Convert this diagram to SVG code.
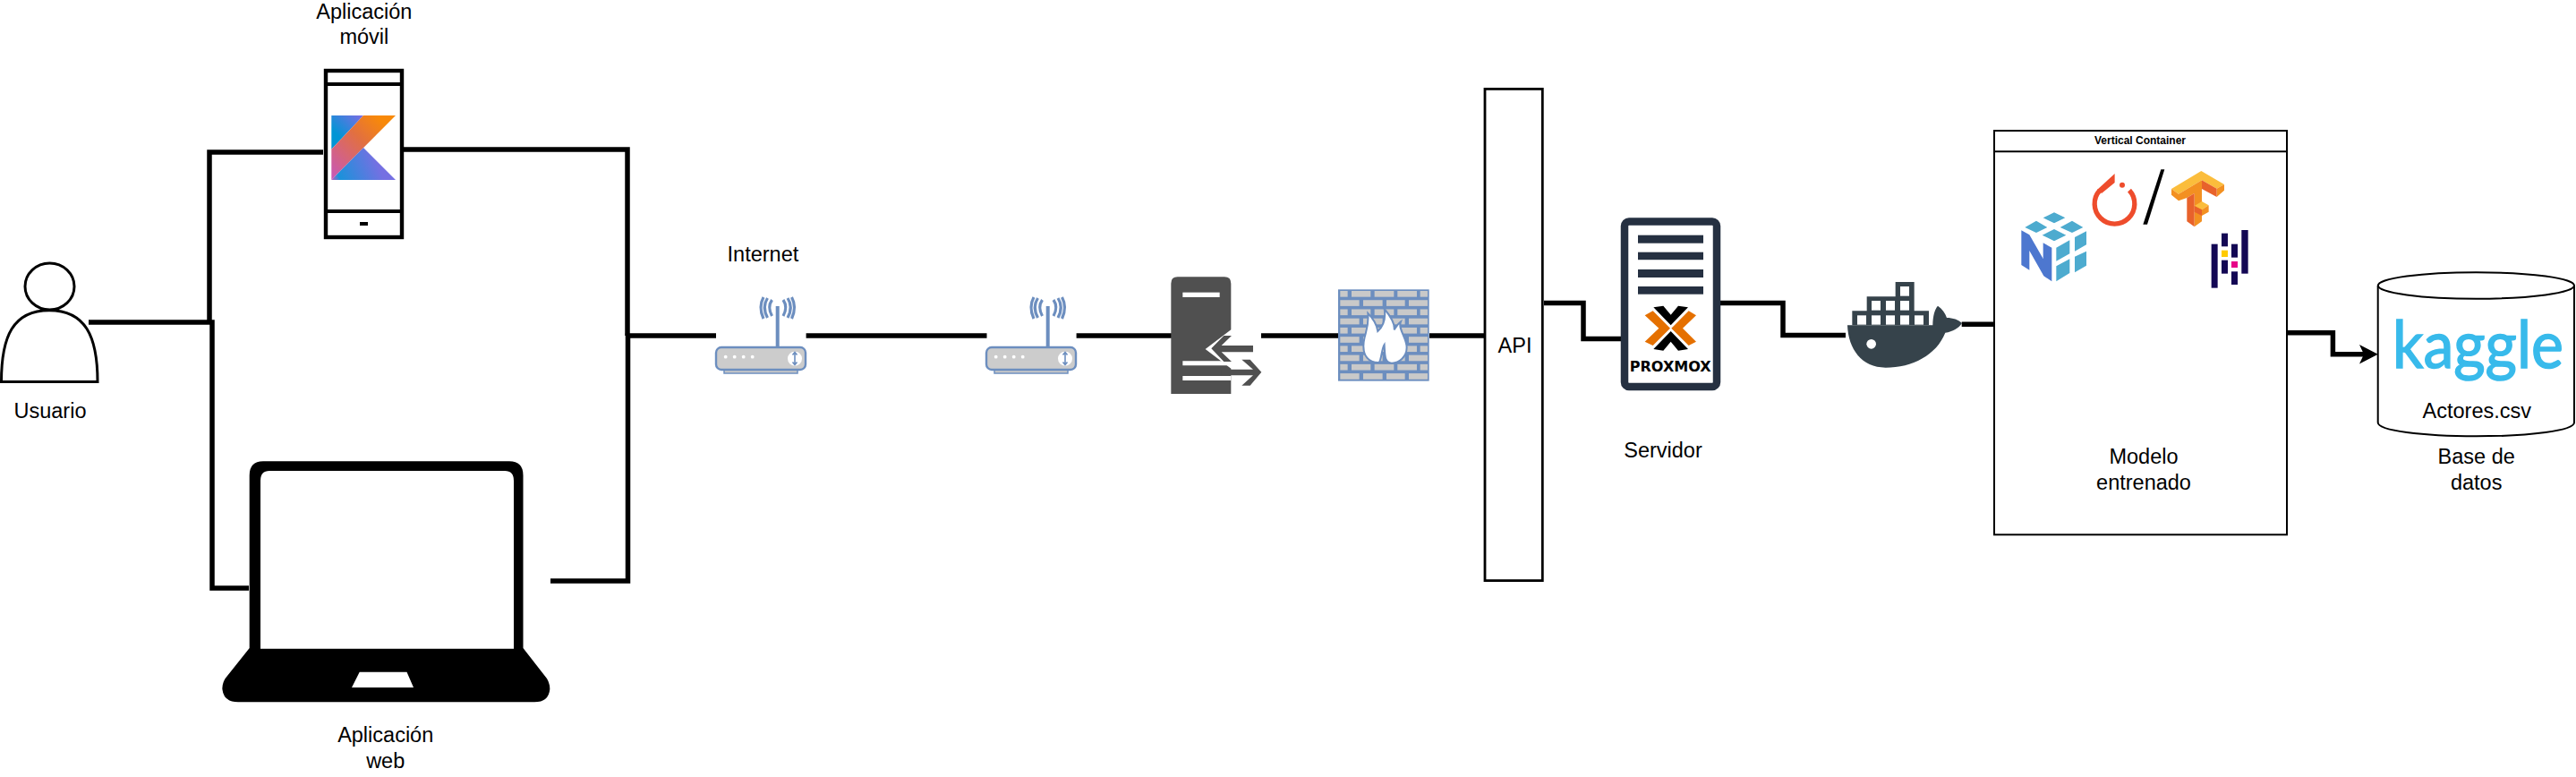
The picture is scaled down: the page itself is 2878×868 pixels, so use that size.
<svg xmlns="http://www.w3.org/2000/svg" xmlns:xlink="http://www.w3.org/1999/xlink" width="2878" height="868" viewBox="0 0 2878 868">
<style>
text{font-family:"Liberation Sans",Arial,sans-serif;font-size:23.5px;fill:#000;text-anchor:middle}
.conn{fill:none;stroke:#000;stroke-width:5.5;stroke-linejoin:miter}
.box{fill:#fff;stroke:#000}
.blue{fill:none;stroke:#6c8ebf}
.brick{fill:#c9c9c9}
.dock{fill:#36434b}
.pm{fill:#253041}
.npc{fill:#4dabcf}
.pan{fill:#130754}
</style>
<defs>
<linearGradient id="k1" gradientUnits="userSpaceOnUse" x1="370" y1="166" x2="406" y2="129"><stop offset="0.3" stop-color="#0095d5"/><stop offset="1" stop-color="#7f6ce4"/></linearGradient>
<linearGradient id="k2" gradientUnits="userSpaceOnUse" x1="370" y1="201" x2="442" y2="129"><stop offset="0" stop-color="#c757bc"/><stop offset="0.55" stop-color="#e2703f"/><stop offset="0.85" stop-color="#f88909"/></linearGradient>
<linearGradient id="k3" gradientUnits="userSpaceOnUse" x1="370" y1="201" x2="442" y2="170"><stop offset="0" stop-color="#c757bc"/><stop offset="0.12" stop-color="#1a92da"/><stop offset="0.7" stop-color="#7570e2"/></linearGradient>
<g id="router">
<rect x="809" y="411" width="82" height="6" fill="#c9c9c9" stroke="#6c8ebf" stroke-width="1.5"/>
<rect x="800" y="388" width="100" height="25" rx="6" fill="#cccccc" stroke="#6c8ebf" stroke-width="2.4"/>
<path d="M868.7,342V388" class="blue" stroke-width="4"/>
<path d="M862.5,335Q857,343 862.5,353M875,335Q880.5,343 875,353M857.5,333Q851,343 857.5,355M880,333Q886.500,343 880,355M853,332Q847,343 853,356M884.500,332Q890.500,343 884.500,356" class="blue" stroke-width="3.2"/>
<g fill="#fff"><circle cx="810.7" cy="398.7" r="1.9"/><circle cx="820.7" cy="398.7" r="1.9"/><circle cx="830.7" cy="398.7" r="1.9"/><circle cx="840.7" cy="398.7" r="1.9"/><circle cx="888" cy="400.7" r="8"/></g>
<path d="M888,394V407M885.5,396.5L888,393.5L890.5,396.5M885.5,404.5L888,407.5L890.5,404.5" class="blue" stroke-width="1.6"/>
</g>
<g id="rowA" class="brick"><rect x="622" y="1" width="25" height="20"/><rect x="660" y="1" width="64" height="20"/><rect x="737" y="1" width="65" height="20"/><rect x="814" y="1" width="65" height="20"/><rect x="890" y="1" width="25" height="20"/></g>
<g id="rowB" class="brick"><rect x="622" y="1" width="64" height="20"/><rect x="699" y="1" width="65" height="20"/><rect x="777" y="1" width="62" height="20"/><rect x="852" y="1" width="63" height="20"/></g>
</defs>
<rect width="2878" height="868" fill="#fff"/>

<g id="connectors">
<path class="conn" d="M99,360H237V657H278"/>
<path class="conn" d="M234,362V170H361"/>
<path class="conn" d="M450,167H701V375"/>
<path class="conn" d="M615,649H701.5V375H800"/>
<path class="conn" d="M900.6,375H1102.5"/>
<path class="conn" d="M1202.6,375H1309"/>
<path class="conn" d="M1409,375H1495"/>
<path class="conn" d="M1597,375H1659"/>
<path class="conn" d="M1725,338.6H1769V378.4H1815"/>
<path class="conn" d="M1922,338.6H1992V374.5H2062"/>
<path class="conn" d="M2191.7,362.3H2232.3"/>
<path class="conn" d="M2555,371.7H2606.4V395.7H2642"/>
<path d="M2656.8,395.7L2636,385L2641,395.7L2636,406.4Z" fill="#000"/>
</g>

<g id="usuario">
<ellipse class="box" cx="55.5" cy="320" rx="27.5" ry="26" stroke-width="3"/>
<path class="box" stroke-width="3" d="M1.5,426.5C1.5,375 15,346.7 55,346.7C95,346.7 109,375 109,426.5Z"/>
<text x="56" y="467.3">Usuario</text>
</g>

<g id="movil">
<rect class="box" x="364" y="79" width="85" height="186" stroke-width="4.4"/>
<path d="M364,94H449M364,236H449" fill="none" stroke="#000" stroke-width="4"/>
<rect x="402" y="248" width="9" height="4"/>
<path fill="url(#k1)" d="M370.3,129H406L370.3,166.7Z"/>
<path fill="url(#k2)" d="M406,129H442L370.3,201V166.7Z"/>
<path fill="url(#k3)" d="M406,165L442,201H370.3Z"/>
<text x="406.8" y="20.5">Aplicación</text>
<text x="406.8" y="49">móvil</text>
</g>

<g id="web">
<path fill-rule="evenodd" d="M278.7,724V531Q278.7,515.3 294,515.3H569Q584.5,515.3 584.5,531V724L611,758Q614.5,764 614.3,770Q613,784.3 597,784.3H266Q250,784.3 248.4,770Q248,764 251.6,758ZM291,724.7H574V537Q574,526 564,526H301Q291,526 291,537ZM401.7,750.7L393,768H462L454.5,750.7Z"/>
<text x="430.7" y="829.3">Aplicación</text>
<text x="430.7" y="857.7">web</text>
</g>

<g id="internet-router">
<use xlink:href="#router" href="#router"/>
<text x="852.4" y="291.7">Internet</text>
</g>

<g id="router-2">
<use xlink:href="#router" href="#router" x="302"/>
</g>

<g id="proxy" transform="translate(1290,300) scale(.3333)">
<path fill="#505050" d="M55,420V50Q55,28 77,28H234Q256,28 256,50V205L170,270L256,335V420Z"/>
<rect x="94" y="80" width="124" height="16" fill="#fff"/>
<path fill="#fff" d="M94,310H256V325H206V360H256V375H94V360H206V325H94Z"/>
<path fill="#505050" d="M258,225H232L190,268L232,312H258L224,280H330V258H224Z"/>
<path fill="#505050" d="M224,338H330L292,305H320L358,347L320,392H292L330,358H224Z"/>
</g>

<g id="firewall" transform="translate(1290,300) scale(.3333)">
<rect x="615" y="70" width="305" height="307" fill="#6c8ebf"/>
<use href="#rowA" y="74"/><use href="#rowB" y="104.7"/><use href="#rowA" y="135.4"/><use href="#rowB" y="166.1"/><use href="#rowA" y="196.8"/><use href="#rowB" y="227.5"/><use href="#rowA" y="258.2"/><use href="#rowB" y="288.9"/><use href="#rowA" y="319.6"/><use href="#rowB" y="350.3"/>
<path fill="#fff" stroke="#6c8ebf" stroke-width="6" d="M750,315C715,315 700,290 700,260C700,220 720,205 715,150C735,170 745,190 748,210C770,190 775,165 770,135C795,165 805,190 803,205C810,195 815,185 825,178C815,205 845,230 845,265C845,295 820,317 795,317C770,317 772,290 770,255C760,270 760,315 750,315Z"/>
</g>

<g id="api">
<rect class="box" x="1659" y="99.4" width="64.3" height="549.2" stroke-width="2.8"/>
<text x="1692.5" y="394">API</text>
</g>

<g id="servidor">
<rect x="1815" y="247.5" width="103" height="184.5" rx="5" fill="#fff" stroke="#253041" stroke-width="8.5"/>
<rect class="pm" x="1830" y="262.7" width="73" height="9"/>
<rect class="pm" x="1830" y="281.7" width="73" height="8.5"/>
<rect class="pm" x="1830" y="301" width="73" height="9"/>
<rect class="pm" x="1830" y="320" width="73" height="8.7"/>
<g transform="translate(1790,230) scale(.3333)">
<path fill="#e57000" d="M143,367L170,352L228,410L170,468L143,455L190,410ZM315,367L290,352L232,410L290,468L315,455L270,410Z"/>
<path fill="#000" d="M172,340L205,335L230,365L255,335L288,340L230,400ZM172,480L205,485L230,455L255,485L288,480L230,420Z"/>
</g>
<text x="1866.2" y="415" textLength="91" lengthAdjust="spacingAndGlyphs" style="font-family:'DejaVu Sans',sans-serif;font-size:15px;font-weight:700">PROXMOX</text>
<text x="1858" y="510.8">Servidor</text>
</g>

<g id="docker" transform="translate(2040,300) scale(.3333)">
<path class="dock" d="M88,190V142H137V94H233V45H296V142H345V190Z"/>
<g fill="#fff"><rect x="105" y="157" width="30" height="31"/><rect x="153" y="157" width="30" height="31"/><rect x="201" y="157" width="30" height="31"/><rect x="249" y="157" width="30" height="31"/><rect x="297" y="157" width="30" height="31"/><rect x="153" y="108" width="30" height="32"/><rect x="201" y="108" width="30" height="32"/><rect x="249" y="108" width="30" height="32"/><rect x="249" y="60" width="30" height="32"/></g>
<path class="dock" d="M72,190H358C358,160 365,135 375,125C390,135 400,150 405,165C425,165 445,172 456,183C445,200 425,212 400,215C370,290 290,332 200,332C120,332 75,270 72,190Z"/>
<circle cx="152" cy="253" r="16" fill="#fff"/>
</g>

<g id="modelo">
<rect class="box" x="2228" y="146" width="327" height="451.3" stroke-width="2"/>
<path d="M2228,169.3H2555" stroke="#000" stroke-width="2"/>
<text x="2391" y="160.7" style="font-size:12px;font-weight:700">Vertical Container</text>
<g transform="translate(2230,170) scale(.3333)">
<path fill="none" stroke="#ee4c2c" stroke-width="16" d="M447,128A67,67 0 1 1 348,128"/>
<path fill="#ee4c2c" d="M398,72V102L354,138L340,125Z"/>
<circle cx="423" cy="110" r="9" fill="#ee4c2c"/>
<path fill="#000" d="M553,58H565L507,242H493Z"/>
<path fill="#fbbd3c" d="M588,123L688,63L765,108L740,122L690,94L612,140Z"/>
<path fill="#f39021" d="M588,123L612,140V163L588,143ZM612,140L690,94V123L640,153L612,163ZM740,122L765,108V128L740,150ZM665,138L690,123V232L665,250Z"/>
<path fill="#e8622b" d="M690,94L740,122V150L690,123ZM640,153L665,138V250L640,232Z"/>
<path fill="#fbbd3c" d="M665,180L690,165L713,178L690,193Z"/>
<path fill="#f39021" d="M690,193L713,178V200L690,213Z"/>
<path fill="#e8622b" d="M665,180L690,193V213L665,200Z"/>
<path class="npc" d="M158,220L195,202L232,220L195,238ZM97,252L135,230L172,252L135,270ZM215,252L255,230L292,252L255,270ZM155,278L195,258L235,278L195,298ZM202,320L247,295V340L202,365ZM264,285L303,265V310L264,332ZM202,382L247,358V405L202,433ZM264,350L303,332V380L264,403Z"/>
<path fill="#4d77cf" d="M85,262L112,277L158,357V304L187,320V433L160,415L112,330V395L85,378Z"/>
<rect class="pan" x="722" y="308" width="21" height="147"/>
<rect class="pan" x="756" y="272" width="21" height="44"/>
<rect class="pan" x="756" y="362" width="21" height="45"/>
<rect x="756" y="329" width="21" height="22" fill="#ffca00"/>
<rect class="pan" x="789" y="308" width="21" height="45"/>
<rect x="789" y="366" width="21" height="21" fill="#e70488"/>
<rect class="pan" x="789" y="400" width="21" height="44"/>
<rect class="pan" x="823" y="261" width="22" height="146"/>
</g>
<text x="2395" y="518.3">Modelo</text>
<text x="2395" y="546.7">entrenado</text>
</g>

<g id="base-de-datos">
<path class="box" stroke-width="2" d="M2656.7,319V472C2656.7,481 2706,487.3 2766.4,487.3C2827,487.3 2876,481 2876,472V319"/>
<ellipse class="box" cx="2766.4" cy="319" rx="109.6" ry="14.8" stroke-width="2"/>
<text x="2768.4" y="410.7" textLength="191" lengthAdjust="spacingAndGlyphs" style="font-family:Lato,sans-serif;font-size:73px;font-weight:400;fill:#38baeb;stroke:#38baeb;stroke-width:1.5px">kaggle</text>
<text x="2767.3" y="466.7">Actores.csv</text>
<text x="2766.7" y="518.3">Base de</text>
<text x="2766.7" y="546.7">datos</text>
</g>
</svg>
